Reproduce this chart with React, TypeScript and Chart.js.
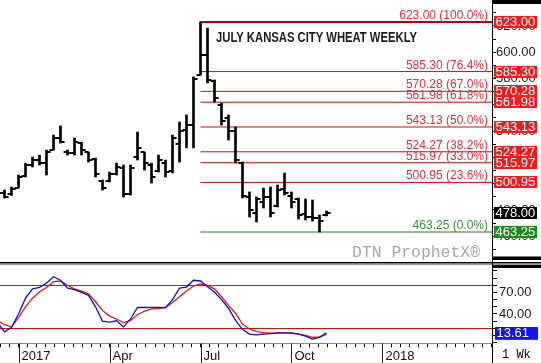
import React, { useEffect, useRef } from 'react';
import { Chart, registerables } from 'chart.js';

Chart.register(...registerables);

// ---- data ----
const weeks = [-3, -2, -1, 0, 1, 2, 3, 4, 5, 6, 7, 8, 9, 10, 11, 12, 13, 14, 15, 16, 17, 18, 19, 20, 21, 22, 23, 24, 25, 26, 27, 28, 29, 30, 31, 32, 33, 34, 35, 36, 37, 38, 39, 40, 41, 42, 43, 44];
const opens = [494, 493, 492, 497, 506, 514, 518, 516, 526, 535, 524, 523, 531, 524, 519, 502, 502, 507, 512, 492, 520, 524, 514, 510, 516, 510, 530, 541, 545, 583, 598, 578, 560, 550, 540, 516, 490, 478, 486, 490, 483, 496, 491, 488, 477, 475, 474, 476];
const highs = [496, 495.2, 497.5, 506.6, 515.7, 520.3, 521.8, 525.6, 537, 543.9, 525.6, 534.8, 531.5, 524.1, 519.5, 502.8, 508.9, 515.7, 514.2, 514.2, 539.3, 524.1, 515.7, 521.8, 518, 537, 546.9, 552.3, 581.2, 623, 618.4, 578.9, 561.4, 552.3, 543.1, 516.5, 493.7, 489.9, 496.7, 497.5, 499, 508.1, 493.7, 489.1, 488.4, 487.6, 476.2, 479.2];
const lows = [490, 489.1, 491, 496.7, 505.1, 512.7, 514.2, 506.6, 525.6, 530.9, 521.8, 521.8, 521.8, 516.5, 505.1, 495.2, 501.3, 506.6, 489.9, 491.4, 518, 510.4, 500.5, 508.9, 505.1, 508.1, 516.5, 527.2, 527.2, 582.7, 576.6, 562.1, 544.6, 533.2, 515.7, 489.1, 474.7, 470.9, 481.5, 474.7, 482.3, 491.4, 481.5, 473.1, 472.4, 471.6, 463.25, 475.5];
const closes = [493, 490, 496, 505, 514, 518, 516, 524, 535, 532, 523, 532, 526, 518, 507, 497, 507, 513, 492, 512, 527, 516, 505, 518, 509, 535, 540, 545, 580, 598, 579, 565, 548, 540, 518, 491, 480, 488, 490, 478, 495, 493, 486, 476, 475, 474, 472, 478];
const stochK = [28, 15, 21, 40, 62, 75, 77, 83, 92, 87, 76, 74, 70, 66, 50, 30, 28.5, 30.5, 22, 33, 49, 49, 49.3, 49.3, 48.8, 60, 76, 77.6, 87, 86, 78, 70.5, 60, 48, 31, 18.6, 12, 10.8, 11.8, 12.6, 13.5, 13.7, 13.2, 12, 9, 5, 7.4, 13.61];
const stochD = [31, 25, 22, 35, 50, 62, 71, 77, 85, 86, 80, 75, 72, 68, 57, 45, 37, 33, 28, 31, 39, 44, 47, 48, 49, 56, 64, 72, 79, 82, 80, 75, 64, 52, 41, 26, 19, 15.5, 14, 13.2, 13.3, 13.5, 13.5, 12, 10, 7.5, 8, 11.5];

const fibPrices = [623.0, 585.3, 570.28, 561.98, 543.13, 524.27, 515.97, 500.95, 463.25];
const fibPercents = ['100.0%', '76.4%', '67.0%', '61.8%', '50.0%', '38.2%', '33.0%', '23.6%', '0.0%'];
const fibStartWeek = 26;
const lastPrice = 478.0;
const lastK = 13.61;
const lastD = 11.5;

const quarterWeeks = [0, 13, 26, 39, 52];
const quarterLabels = ['2017', 'Apr', 'Jul', 'Oct', '2018'];
const priceTicks = [450, 460, 470, 480, 490, 500, 510, 520, 530, 540, 550, 560, 570, 580, 590, 600, 610, 620, 630];
const priceLabelStep = 20;
const stochTicks = [0, 10, 20, 30, 40, 50, 60, 70, 80, 90, 100];
const stochLabeled = [70, 40, 10];
const stochBands = [80, 20];

// ---- layout constants ----
const X_MIN = -2.643;
const X_MAX = 67.643;
const P_MIN = 440.43;
const P_MAX = 639.74;
const S_MIN = -0.93;
const S_MAX = 109.02;

const SANS = '"Liberation Sans", Arial, sans-serif';
const MONO = '"Liberation Mono", "DejaVu Sans Mono", monospace';
const FIB_RED = '#c81010';
const FIB_TEXT_RED = '#e0303a';
const FIB_GREEN = '#2a7a2a';
const FIB_TEXT_GREEN = '#3c8c3c';

function makeTickImage(side: 'left' | 'right') {
  const c = document.createElement('canvas');
  c.width = 10;
  c.height = 2;
  const g = c.getContext('2d')!;
  g.fillStyle = '#000';
  if (side === 'left') g.fillRect(1, 0, 4, 2);
  else g.fillRect(5, 0, 4, 2);
  return c;
}

function drawTag(ctx: CanvasRenderingContext2D, left: number, y: number, text: string, bg: string) {
  ctx.fillStyle = bg;
  ctx.fillRect(left + 2, Math.round(y) - 6, 43, 12);
  if (text) {
    ctx.fillStyle = '#fff';
    ctx.font = `13px ${SANS}`;
    ctx.textAlign = 'left';
    ctx.textBaseline = 'middle';
    ctx.fillText(text, left + 3.5, Math.round(y) + 0.5);
  }
}

const mainPlugin = {
  id: 'mainDecor',
  afterDraw(chart: any) {
    const { ctx, chartArea } = chart;
    const xs = chart.scales.x;
    const ys = chart.scales.y;
    ctx.save();
    // fib labels
    ctx.font = `12px ${SANS}`;
    ctx.textAlign = 'right';
    ctx.textBaseline = 'alphabetic';
    fibPrices.forEach((p, k) => {
      const py = ys.getPixelForValue(p);
      ctx.fillStyle = k === fibPrices.length - 1 ? FIB_TEXT_GREEN : FIB_TEXT_RED;
      ctx.fillText(`${p.toFixed(2)} (${fibPercents[k]})`, chartArea.right - 4, py - 3);
    });
    // title
    const title = 'JULY KANSAS CITY WHEAT WEEKLY';
    ctx.font = `bold 14px ${SANS}`;
    const tw = ctx.measureText(title).width;
    const tx = xs.getPixelForValue(fibStartWeek) + 15.5;
    ctx.save();
    ctx.translate(tx, 41.5);
    ctx.scale(201 / tw, 1);
    ctx.fillStyle = '#1a1a1a';
    ctx.textAlign = 'left';
    ctx.fillText(title, 0, 0);
    ctx.restore();
    // watermark
    const wm = 'DTN ProphetX®';
    ctx.font = `16px ${MONO}`;
    const ww = ctx.measureText(wm).width;
    ctx.save();
    ctx.translate(352, 256.5);
    ctx.scale(128 / ww, 1);
    ctx.fillStyle = '#a8a8a8';
    ctx.textAlign = 'left';
    ctx.fillText(wm, 0, 0);
    ctx.restore();
    // right column decorations
    ctx.fillStyle = '#000';
    ctx.fillRect(chartArea.right + 1, 0, chart.width - chartArea.right - 1, 4);
    ctx.fillRect(chartArea.right + 1, 256.5, chart.width - chartArea.right - 1, 3.5);
    // tags
    fibPrices.forEach((p, k) => {
      if (k === fibPrices.length - 1) return;
      drawTag(ctx, chartArea.right, ys.getPixelForValue(p), p.toFixed(2), '#ee1c1c');
    });
    drawTag(ctx, chartArea.right, ys.getPixelForValue(lastPrice), lastPrice.toFixed(2), '#000');
    const lowP = fibPrices[fibPrices.length - 1];
    drawTag(ctx, chartArea.right, ys.getPixelForValue(lowP), lowP.toFixed(2), '#1c8a1c');
    ctx.restore();
  },
};

const lowPlugin = {
  id: 'lowDecor',
  afterDraw(chart: any) {
    const { ctx, chartArea, width, height } = chart;
    const xs = chart.scales.x;
    const ys = chart.scales.y;
    ctx.save();
    // separators
    ctx.fillStyle = '#000';
    ctx.fillRect(0, 0, width, 1.5);
    ctx.fillStyle = '#9a9a9a';
    ctx.fillRect(0, 2, width, 1.2);
    ctx.fillStyle = '#000';
    ctx.fillRect(chartArea.right + 1, 3, width - chartArea.right - 1, 3);
    // major date ticks
    ctx.strokeStyle = '#222';
    ctx.lineWidth = 1;
    quarterWeeks.forEach((w) => {
      const px = Math.round(xs.getPixelForValue(w)) + 0.5;
      ctx.beginPath();
      ctx.moveTo(px, chartArea.bottom);
      ctx.lineTo(px, height);
      ctx.stroke();
    });
    // axis extension
    const ax = Math.round(chartArea.right) + 0.5;
    ctx.strokeStyle = '#000';
    ctx.beginPath();
    ctx.moveTo(ax, 0);
    ctx.lineTo(ax, height);
    ctx.stroke();
    // tags
    drawTag(ctx, chartArea.right + 1, ys.getPixelForValue(lastD), '', '#dd1111');
    drawTag(ctx, chartArea.right + 1, ys.getPixelForValue(lastK), lastK.toFixed(2), '#1414f0');
    // period
    ctx.fillStyle = '#000';
    ctx.font = `12px ${MONO}`;
    ctx.textAlign = 'left';
    ctx.textBaseline = 'middle';
    ctx.fillText('1 Wk', chartArea.right + 10, 93);
    ctx.restore();
  },
};

function buildDateTicks() {
  const vals: number[] = [];
  for (let q = -1; q <= 5; q++) {
    for (let k = 0; k < 10; k++) {
      const v = q * 13 + k * 1.3;
      if (v >= X_MIN && v <= X_MAX) vals.push(k === 0 ? q * 13 : v);
    }
  }
  return vals;
}

export default function App() {
  const mainRef = useRef<HTMLCanvasElement>(null);
  const lowRef = useRef<HTMLCanvasElement>(null);

  useEffect(() => {
    const openImg = makeTickImage('left');
    const closeImg = makeTickImage('right');

    const fibSets = fibPrices.map((p, k) => ({
      type: 'line' as const,
      label: `fib${k}`,
      data: [
        { x: fibStartWeek, y: p },
        { x: X_MAX, y: p },
      ],
      borderColor: k === fibPrices.length - 1 ? FIB_GREEN : k === 0 ? '#b80000' : FIB_RED,
      borderWidth: k === 0 ? 2 : 1,
      pointRadius: 0,
      order: 5,
    }));

    const main = new Chart(mainRef.current!, {
      type: 'line',
      data: {
        datasets: [
          {
            type: 'bar',
            label: 'HL',
            data: weeks.map((w, k) => ({ x: w, y: [lows[k], highs[k]] })) as any,
            backgroundColor: '#000',
            barThickness: 2,
            borderWidth: 0,
            order: 2,
          } as any,
          {
            type: 'line',
            label: 'Open',
            data: weeks.map((w, k) => ({ x: w, y: opens[k] })),
            showLine: false,
            pointStyle: openImg as any,
            pointRadius: 3,
            order: 1,
          },
          {
            type: 'line',
            label: 'Close',
            data: weeks.map((w, k) => ({ x: w, y: closes[k] })),
            showLine: false,
            pointStyle: closeImg as any,
            pointRadius: 3,
            order: 1,
          },
          ...fibSets,
        ],
      },
      options: {
        responsive: false,
        animation: false,
        events: [],
        layout: { padding: 0, autoPadding: false },
        plugins: { legend: { display: false }, tooltip: { enabled: false } },
        scales: {
          x: { type: 'linear', display: false, min: X_MIN, max: X_MAX, offset: false },
          y: {
            type: 'linear',
            position: 'right',
            min: P_MIN,
            max: P_MAX,
            afterBuildTicks: (s: any) => {
              s.ticks = priceTicks.map((v) => ({ value: v }));
            },
            afterFit: (s: any) => {
              s.width = 49;
              s.paddingTop = 0;
              s.paddingBottom = 0;
            },
            ticks: {
              autoSkip: false,
              padding: 0,
              color: '#222',
              font: { family: SANS, size: 13 },
              callback: (v: any) => (Number(v) % priceLabelStep === 0 ? Number(v).toFixed(2) : ''),
            },
            grid: { drawOnChartArea: false, tickLength: 4, color: '#000' },
            border: { color: '#000' },
          },
        },
      } as any,
      plugins: [mainPlugin],
    });

    const dateTicks = buildDateTicks();

    const low = new Chart(lowRef.current!, {
      type: 'line',
      data: {
        datasets: [
          {
            label: '%K',
            data: weeks.map((w, k) => ({ x: w, y: stochK[k] })),
            borderColor: '#1010c8',
            borderWidth: 1.3,
            pointRadius: 0,
            tension: 0,
            order: 0,
          },
          {
            label: '%D',
            data: weeks.map((w, k) => ({ x: w, y: stochD[k] })),
            borderColor: '#e01818',
            borderWidth: 1.3,
            pointRadius: 0,
            tension: 0,
            order: 1,
          },
        ],
      },
      options: {
        responsive: false,
        animation: false,
        events: [],
        layout: { padding: { top: 2.5, left: 0, right: 0, bottom: 0 }, autoPadding: false },
        plugins: { legend: { display: false }, tooltip: { enabled: false } },
        scales: {
          x: {
            type: 'linear',
            min: X_MIN,
            max: X_MAX,
            offset: false,
            afterBuildTicks: (s: any) => {
              s.ticks = dateTicks.map((v) => ({ value: v }));
            },
            afterFit: (s: any) => {
              s.height = 19.7;
              s.paddingLeft = 0;
              s.paddingRight = 0;
            },
            ticks: {
              autoSkip: false,
              maxRotation: 0,
              minRotation: 0,
              align: 'start',
              labelOffset: 3,
              padding: 1,
              color: '#111',
              font: { family: SANS, size: 13 },
              callback: (v: any) => {
                const q = quarterWeeks.indexOf(Number(v));
                return q >= 0 ? quarterLabels[q] : '';
              },
            },
            grid: { drawOnChartArea: false, tickLength: 4, color: '#000', offset: false },
            border: { color: '#888', dash: [2, 2] },
          },
          y: {
            type: 'linear',
            position: 'right',
            min: S_MIN,
            max: S_MAX,
            afterBuildTicks: (s: any) => {
              s.ticks = stochTicks.map((v) => ({ value: v }));
            },
            afterFit: (s: any) => {
              s.width = 49;
              s.paddingTop = 0;
              s.paddingBottom = 0;
            },
            ticks: {
              autoSkip: false,
              padding: 2,
              color: '#222',
              font: { family: SANS, size: 13 },
              callback: (v: any) => (stochLabeled.includes(Number(v)) ? Number(v).toFixed(2) : ''),
            },
            grid: {
              drawOnChartArea: true,
              tickLength: 5,
              tickColor: '#000',
              color: (c: any) => (c.tick && stochBands.includes(c.tick.value) ? '#d01010' : 'rgba(0,0,0,0)'),
            },
            border: { color: '#000' },
          },
        },
      } as any,
      plugins: [lowPlugin],
    });

    return () => {
      main.destroy();
      low.destroy();
    };
  }, []);

  return (
    <div style={{ position: 'fixed', left: 0, top: 0, width: 541, height: 363, background: '#fff', overflow: 'hidden' }}>
      <canvas ref={mainRef} width={541} height={262} style={{ position: 'absolute', left: 0, top: 0, width: 541, height: 262 }} />
      <canvas ref={lowRef} width={541} height={101} style={{ position: 'absolute', left: 0, top: 262, width: 541, height: 101 }} />
    </div>
  );
}
